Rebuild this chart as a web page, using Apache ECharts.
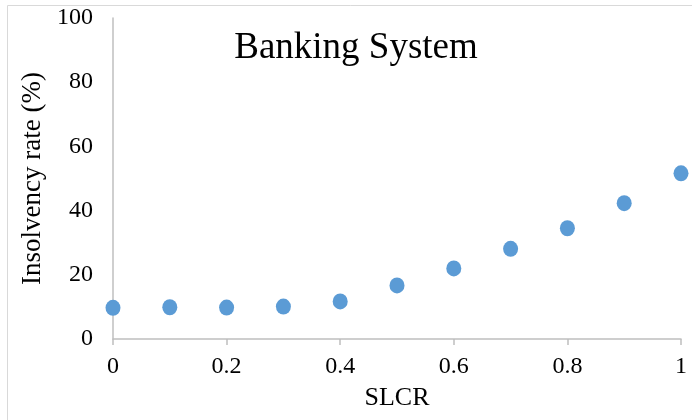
<!DOCTYPE html>
<html><head><meta charset="utf-8">
<script src="https://cdn.jsdelivr.net/npm/echarts@6/dist/echarts.min.js"></script>
<style>html,body{margin:0;padding:0;background:#fff}#c{width:692px;height:420px}</style>
</head><body><div id="c"></div>
<script>
const slcr = [0, 0.1, 0.2, 0.3, 0.4, 0.5, 0.6, 0.7, 0.8, 0.9, 1.0];
const insolvency = [9.7, 9.9, 9.8, 10.1, 11.7, 16.7, 22.0, 28.1, 34.5, 42.3, 51.6];
const titleText = 'Banking System';
const xName = 'SLCR';
const yName = 'Insolvency rate (%)';
const F = '"Liberation Serif", "Times New Roman", serif';
const chart = echarts.init(document.getElementById('c'));
chart.setOption({
  animation: false,
  graphic: [{type:'rect', shape:{x:7.5,y:5.5,width:700,height:430}, style:{fill:'none', stroke:'#d9d9d9', lineWidth:1}, silent:true}],
  title: {text: titleText, left: 351, top: 25, textAlign:'center', textStyle:{fontFamily:F, fontSize:37, fontWeight:'normal', color:'#000'}},
  grid: {left: 113, right: 11, top: 18, bottom: 81},
  xAxis: {type:'value', min:0, max:1, interval:0.2, name:xName, nameLocation:'middle', nameGap:59,
    nameTextStyle:{fontFamily:F, fontSize:26, color:'#000', verticalAlign:'middle'},
    axisLine:{show:true, lineStyle:{color:'#bfbfbf', width:1.5}},
    axisTick:{show:true, length:6, lineStyle:{color:'#bfbfbf', width:1.5}},
    splitLine:{show:false},
    axisLabel:{fontFamily:F, fontSize:24, color:'#000', margin:16, formatter: v => String(+v.toFixed(1))}},
  yAxis: {type:'value', min:0, max:100, interval:20, name:yName, nameLocation:'middle', nameGap:79, nameRotate:90,
    nameTextStyle:{fontFamily:F, fontSize:27, color:'#000', verticalAlign:'middle'},
    axisLine:{show:true, lineStyle:{color:'#bfbfbf', width:1.5}},
    axisTick:{show:false}, splitLine:{show:false},
    axisLabel:{fontFamily:F, fontSize:24, color:'#000', margin:20}},
  series: [{type:'scatter', data: slcr.map((x,i)=>[x, insolvency[i]]), symbol:'circle', symbolSize:[15,16],
    itemStyle:{color:'#5b9bd5', opacity:1}}]
});
</script></body></html>
